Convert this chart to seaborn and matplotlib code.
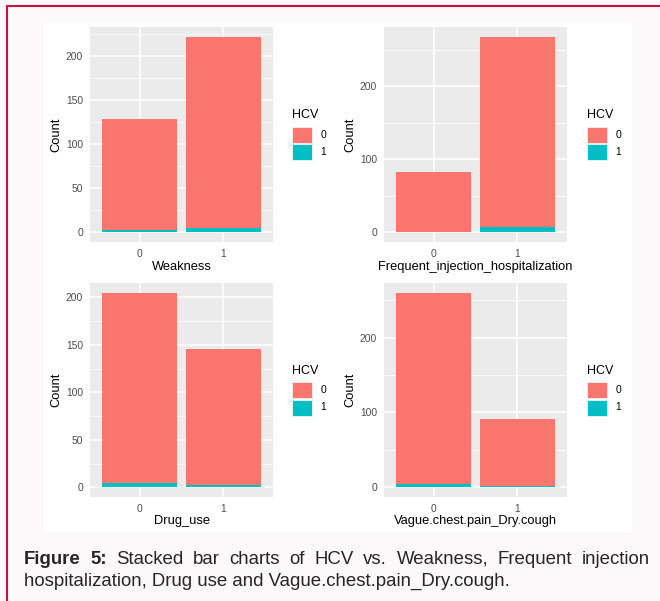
import numpy as np
import pandas as pd
import matplotlib
matplotlib.use("Agg")
import matplotlib.pyplot as plt
import seaborn as sns
from matplotlib.patches import Rectangle
from matplotlib.lines import Line2D
from matplotlib.ticker import MultipleLocator

# ---------------- data ----------------
levels = ["0", "1"]
variables = ["Weakness", "Frequent_injection_hospitalization",
             "Drug_use", "Vague.chest.pain_Dry.cough"]
hcv0_weakness = [127, 217]
hcv1_weakness = [2, 5]
hcv0_frequent = [83, 261]
hcv1_frequent = [0, 7]
hcv0_drug = [200, 144]
hcv1_drug = [5, 2]
hcv0_vague = [255, 89]
hcv1_vague = [5, 2]
y_steps = [50, 100, 50, 100]
y_label = "Count"
legend_title = "HCV"
legend_labels = ["0", "1"]
caption_bold = ["Figure", "5:"]
caption_line1 = "Stacked bar charts of HCV vs. Weakness, Frequent injection"
caption_line2 = "hospitalization, Drug use and Vague.chest.pain_Dry.cough."

hcv0_all = [hcv0_weakness, hcv0_frequent, hcv0_drug, hcv0_vague]
hcv1_all = [hcv1_weakness, hcv1_frequent, hcv1_drug, hcv1_vague]

# ---------------- style ----------------
RED = "#F8766D"
CYAN = "#00BFC4"
PANEL = "#EBEBEB"
W, H = 660, 601
sns.set_style("white")
plt.rcParams["font.family"] = ["Liberation Sans", "DejaVu Sans"]

fig = plt.figure(figsize=(W / 100, H / 100), dpi=100)
fig.patch.set_facecolor("#fcf9fa")


def fx(x):
    return x / W


def fy(y):
    return 1 - y / H


# white image area
fig.add_artist(Rectangle((fx(44), fy(532)), fx(632) - fx(44), fy(22) - fy(532),
                         transform=fig.transFigure, facecolor="white",
                         edgecolor="none", zorder=0))
# crimson border (top and left)
fig.add_artist(Line2D([fx(7.3), 1], [fy(5.5), fy(5.5)], transform=fig.transFigure,
                      color="#c8143c", lw=1.5))
fig.add_artist(Line2D([fx(7.3), fx(7.3)], [fy(5.5), 0], transform=fig.transFigure,
                      color="#c8143c", lw=1.5))

col_x = [90, 384]
col_w = 183
row_y = [(27, 242), (283, 497)]
count_x = [56.7, 350.7]
xtitle_y = [266.7, 520.7]
key_x = [292, 587]
legend_rows = [(115, 127, 144), (371, 382, 399.5)]
key_w, key_h = 19.5, 16

for i, var in enumerate(variables):
    r, c = divmod(i, 2)
    top, bot = row_y[r]
    ax = fig.add_axes([fx(col_x[c]), fy(bot), col_w / W, (bot - top) / H])
    totals = [a + b for a, b in zip(hcv0_all[i], hcv1_all[i])]
    df = pd.DataFrame({"level": levels, "total": totals, "pos": hcv1_all[i]})
    sns.barplot(data=df, x="level", y="total", order=levels, color=RED,
                saturation=1, width=0.9, linewidth=0, errorbar=None, ax=ax)
    sns.barplot(data=df, x="level", y="pos", order=levels, color=CYAN,
                saturation=1, width=0.9, linewidth=0, errorbar=None, ax=ax)
    ymax = max(totals)
    ax.set_xlim(-0.6, 1.6)
    ax.set_ylim(-0.05 * ymax, 1.05 * ymax)
    ax.yaxis.set_major_locator(MultipleLocator(y_steps[i]))
    ax.yaxis.set_minor_locator(MultipleLocator(y_steps[i] / 2))
    ax.set_facecolor(PANEL)
    ax.set_axisbelow(True)
    ax.grid(True, which="major", color="white", lw=1.1)
    ax.yaxis.grid(True, which="minor", color="white", lw=0.55)
    for s in ax.spines.values():
        s.set_visible(False)
    ax.tick_params(axis="both", which="major", length=3, width=0.8,
                   color="#333333", labelcolor="#4d4d4d", labelsize=7.4, pad=2)
    ax.tick_params(axis="both", which="minor", length=0)
    ax.set_xlabel("")
    ax.set_ylabel("")
    fig.text(fx(count_x[c]), fy((top + bot) / 2), y_label, rotation=90,
             ha="center", va="center", fontsize=9.3, color="black")
    fig.text(fx(col_x[c] + col_w / 2), fy(xtitle_y[r]), var,
             ha="center", va="center", fontsize=9.3, color="black")
    # legend
    ty, k0, k1 = legend_rows[r]
    fig.text(fx(key_x[c]), fy(ty), legend_title, ha="left", va="center",
             fontsize=9, color="black")
    for ky, col, lab in zip([k0, k1], [RED, CYAN], legend_labels):
        fig.add_artist(Rectangle((fx(key_x[c]), fy(ky + key_h)), key_w / W, key_h / H,
                                 transform=fig.transFigure, facecolor=col,
                                 edgecolor="#f2f2f2", lw=0.6))
        fig.text(fx(key_x[c] + key_w + 9), fy(ky + key_h / 2), lab,
                 ha="left", va="center", fontsize=7.4, color="black")

# ---------------- caption (justified first line) ----------------
CAP = 13.45
renderer = fig.canvas.get_renderer()
words = [(w, "bold") for w in caption_bold] + [(w, "normal") for w in caption_line1.split()]
texts = []
for w, wt in words:
    t = fig.text(0, fy(563.5), w, fontsize=CAP, fontweight=wt, color="#262626",
                 ha="left", va="baseline")
    texts.append(t)
widths = [t.get_window_extent(renderer).width for t in texts]
x0, x1 = 24, 650
gap = (x1 - x0 - sum(widths)) / (len(texts) - 1)
x = x0
for t, wd in zip(texts, widths):
    t.set_x(fx(x))
    x += wd + gap
fig.text(fx(24), fy(586), caption_line2, fontsize=CAP, color="#262626",
         ha="left", va="baseline")

fig.savefig("out.png", dpi=100, facecolor=fig.get_facecolor())
